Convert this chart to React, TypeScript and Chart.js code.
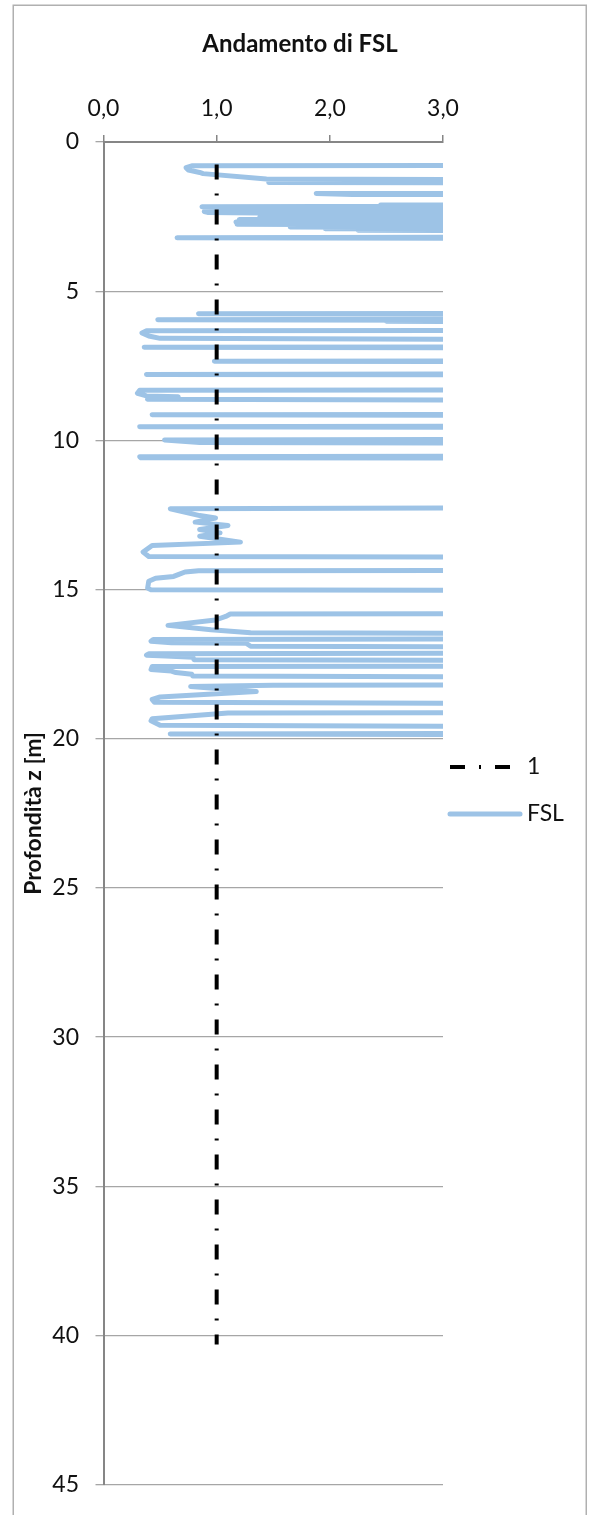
import React, { useEffect, useRef } from 'react';
import { Chart, registerables } from 'chart.js';

Chart.register(...registerables);

const chartTitle = 'Andamento di FSL';
const yAxisTitle = 'Profondità z [m]';
const xTickLabels = ['0,0', '1,0', '2,0', '3,0'];
const seriesNames = ['1', 'FSL'];

// reference line FSL = 1
const unitDepth = [0.75, 40.3];
const unitValue = [1, 1];

// FSL profile (depth z [m], FSL value); values > 3 run off the right edge
const fslDepth = [
  0.78, 0.8, 0.86, 0.94, 1.02, 1.06, 1.24, 1.27, 1.36, 1.38,
  1.72, 1.73, 1.76, 1.77,
  2.1, 2.11, 2.13, 2.17, 2.19, 2.22, 2.24, 2.28, 2.33, 2.36, 2.38, 2.4, 2.45, 2.48, 2.52, 2.55,
  2.6, 2.64, 2.68, 2.72, 2.76, 2.8, 2.85, 2.88, 2.91, 2.93, 2.96, 2.98,
  3.17, 3.21, 3.24,
  5.74, 5.76, 5.78, 5.93, 5.96, 5.98, 6.01, 6.03,
  6.31, 6.33, 6.4, 6.5, 6.58, 6.63,
  6.86, 6.88, 6.91, 7.33, 7.35, 7.37, 7.77, 7.79, 7.81,
  8.3, 8.32, 8.42, 8.51, 8.54, 8.58, 8.62, 8.66,
  9.12, 9.14, 9.17, 9.52, 9.54, 9.57,
  9.96, 9.99, 10.07, 10.1, 10.52, 10.55, 10.58, 10.6,
  12.25, 12.29, 12.52, 12.6, 12.74, 12.85, 12.99, 13.1, 13.21, 13.41, 13.52, 13.74, 13.89, 13.93,
  14.35, 14.37, 14.41, 14.5, 14.56, 14.62, 14.72, 14.95, 15.01, 15.04,
  15.8, 15.82, 15.9, 16.02, 16.2, 16.35, 16.45, 16.48,
  16.64, 16.67, 16.73, 16.78, 16.8, 16.9, 16.93,
  17.12, 17.15, 17.2, 17.23, 17.27, 17.35, 17.39,
  17.56, 17.58, 17.68, 17.73, 17.78, 17.84, 17.9, 17.94,
  18.19, 18.21, 18.25, 18.42, 18.6, 18.68, 18.78, 18.84,
  19.11, 19.14, 19.33, 19.4, 19.55, 19.6,
  19.81, 19.84, 19.87,
];
const fslValue = [
  5, 0.78, 0.73, 0.75, 0.85, 0.88, 1.44, 5, 1.46, 5,
  5, 1.88, 2.2, 5,
  5, 2.45, 5, 0.87, 1.2, 1.38, 5, 1.38, 0.89, 0.92, 1.38, 5, 1.4, 5, 1.38, 5,
  1.2, 5, 1.17, 5, 1.18, 5, 1.65, 5, 1.96, 5, 2.25, 5,
  5, 0.65, 5,
  5, 0.84, 5, 5, 0.48, 5, 2.5, 5,
  5, 0.38, 0.34, 0.4, 0.5, 5,
  5, 0.36, 5, 5, 0.98, 5, 5, 0.38, 5,
  5, 0.32, 0.3, 0.38, 0.66, 0.4, 0.39, 5,
  5, 0.43, 5, 5, 0.32, 5,
  5, 0.54, 0.85, 5, 5, 0.32, 0.33, 5,
  5, 0.59, 0.85, 0.99, 0.81, 1.1, 0.85, 1.03, 0.85, 1.21, 0.43, 0.35, 0.4, 5,
  5, 0.84, 0.72, 0.66, 0.62, 0.46, 0.4, 0.39, 0.42, 5,
  5, 1.12, 1.08, 0.99, 0.57, 0.95, 1.3, 5,
  5, 0.44, 0.42, 0.6, 1.26, 1.3, 5,
  5, 0.4, 0.38, 0.55, 0.79, 0.8, 5,
  5, 0.43, 0.42, 0.6, 0.64, 0.78, 0.79, 5,
  5, 1.5, 0.77, 1.35, 0.5, 0.43, 0.45, 5,
  5, 1.1, 0.43, 0.42, 0.5, 5,
  5, 0.59, 5,
];

const FONT = 'Lato, "Open Sans", sans-serif';
const TEXT = '#111111';
const AXIS = '#868686';
const GRID = '#a6a6a6';
const BLUE = '#9DC3E6';

const framePlugin = {
  id: 'frame',
  beforeDraw(chart: any) {
    const { ctx } = chart;
    ctx.save();
    ctx.fillStyle = '#ffffff';
    ctx.fillRect(0, 0, chart.width, chart.height);
    ctx.strokeStyle = '#b0b0b0';
    ctx.lineWidth = 1.5;
    ctx.strokeRect(13.25, 5.25, chart.width - 19, chart.height + 20);
    ctx.restore();
  },
};

const titlePlugin = {
  id: 'customTitle',
  afterDraw(chart: any) {
    const { ctx } = chart;
    ctx.save();
    ctx.font = `bold 24px ${FONT}`;
    ctx.fillStyle = TEXT;
    ctx.textAlign = 'center';
    ctx.textBaseline = 'alphabetic';
    ctx.fillText(chartTitle, 300, 52);
    ctx.restore();
  },
};

const sideLegendPlugin = {
  id: 'sideLegend',
  afterDraw(chart: any) {
    const { ctx, chartArea } = chart;
    const datasets = chart.data.datasets;
    const rowY = [chartArea.top + 625, chartArea.top + 672];
    const sampleLen = [60, 70];
    const x0 = chartArea.right + 7;
    datasets.forEach((ds: any, i: number) => {
      const y = rowY[i];
      ctx.save();
      ctx.strokeStyle = ds.borderColor;
      ctx.lineWidth = ds.borderWidth;
      ctx.lineCap = ds.borderDash && ds.borderDash.length ? 'butt' : 'round';
      ctx.setLineDash(ds.borderDash || []);
      ctx.beginPath();
      ctx.moveTo(x0, y);
      ctx.lineTo(x0 + sampleLen[i], y);
      ctx.stroke();
      ctx.setLineDash([]);
      ctx.font = `23px ${FONT}`;
      ctx.fillStyle = TEXT;
      ctx.textAlign = 'left';
      ctx.textBaseline = 'middle';
      ctx.fillText(ds.label, chartArea.right + 84, y);
      ctx.restore();
    });
  },
};

export default function App() {
  const canvasRef = useRef<HTMLCanvasElement | null>(null);

  useEffect(() => {
    if (!canvasRef.current) return;
    Chart.defaults.font.family = FONT;
    Chart.defaults.color = TEXT;
    const unitData = unitDepth.map((z, i) => ({ x: unitValue[i], y: z }));
    const fslData = fslDepth.map((z, i) => ({ x: fslValue[i], y: z }));
    const chart = new Chart(canvasRef.current, {
      type: 'scatter',
      data: {
        datasets: [
          {
            label: seriesNames[0],
            data: unitData,
            showLine: true,
            borderColor: '#000000',
            borderWidth: 4,
            borderDash: [15, 14, 2, 14],
            borderCapStyle: 'butt',
            pointRadius: 0,
            pointHoverRadius: 0,
          },
          {
            label: seriesNames[1],
            data: fslData,
            showLine: true,
            borderColor: BLUE,
            borderWidth: 5,
            borderJoinStyle: 'round',
            borderCapStyle: 'round',
            pointRadius: 0,
            pointHoverRadius: 0,
            tension: 0,
          },
        ],
      } as any,
      options: {
        responsive: false,
        animation: false,
        devicePixelRatio: 1,
        events: [],
        layout: { padding: { top: 92, left: 13.5, right: 149, bottom: 17 } },
        plugins: {
          legend: { display: false },
          title: { display: false },
          tooltip: { enabled: false },
        },
        scales: {
          x: {
            type: 'linear',
            position: 'top',
            min: 0,
            max: 3,
            ticks: {
              stepSize: 1,
              padding: 13,
              font: { size: 23 },
              color: TEXT,
              callback: (v: any) => xTickLabels[Math.round(Number(v))] ?? '',
            },
            grid: {
              drawOnChartArea: false,
              drawTicks: true,
              tickLength: 7,
              color: AXIS,
              lineWidth: 1.5,
            },
            border: { color: AXIS, width: 2 },
            afterFit: (s: any) => {
              s.height = 50;
            },
          },
          y: {
            type: 'linear',
            reverse: true,
            min: 0,
            max: 45,
            ticks: {
              stepSize: 5,
              padding: 16.5,
              font: { size: 23 },
              color: TEXT,
            },
            grid: { color: GRID, lineWidth: 1.3, tickLength: 8 },
            border: { color: AXIS, width: 2 },
            title: {
              display: true,
              text: yAxisTitle,
              font: { size: 23, weight: 'bold' },
              color: TEXT,
              padding: { top: 6, bottom: 0 },
            },
            afterFit: (s: any) => {
              s.width = 90;
            },
          },
        },
      } as any,
      plugins: [framePlugin, titlePlugin, sideLegendPlugin],
    });
    return () => chart.destroy();
  }, []);

  return (
    <div style={{ position: 'absolute', left: 0, top: 0, width: 592, height: 1515, background: '#fff' }}>
      <canvas ref={canvasRef} width={592} height={1515} style={{ display: 'block', width: 592, height: 1515 }} />
    </div>
  );
}
